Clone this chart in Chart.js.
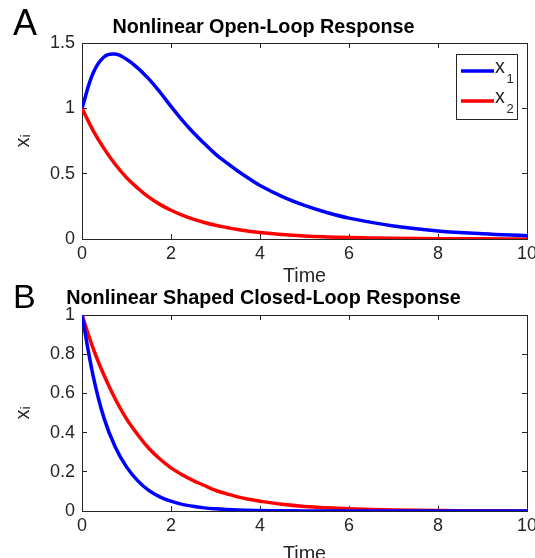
<!DOCTYPE html>
<html><head><meta charset="utf-8">
<script src="https://cdn.jsdelivr.net/npm/chart.js@4"></script>
<style>
html,body{margin:0;padding:0;background:#fff;overflow:hidden;width:535px;height:558px;}
#wrap{position:relative;width:535px;height:558px;overflow:hidden;background:#fff;}
canvas{position:absolute;left:0;}
#c1{top:0;}
#c2{top:280px;}
.lbl{position:absolute;left:13px;font-family:"Liberation Sans",Arial,sans-serif;color:#000;line-height:1;white-space:nowrap;}
</style></head>
<body><div id="wrap">
<canvas id="c1" width="535" height="290"></canvas>
<canvas id="c2" width="535" height="290"></canvas>
<div class="lbl" style="top:4.5px;font-size:36px;">A</div>
<div class="lbl" style="top:279px;font-size:34px;">B</div>
</div>
<script>
// ---- data ----
const timeValues = [0,0.25,0.5,0.75,1,1.25,1.5,1.75,2,2.25,2.5,2.75,3,3.25,3.5,3.75,4,4.5,5,5.5,6,7,8,9,10];
const openX1 = [1.00,1.27,1.395,1.415,1.375,1.31,1.225,1.125,1.015,0.91,0.815,0.73,0.65,0.583,0.52,0.463,0.41,0.325,0.257,0.203,0.16,0.10,0.062,0.04,0.025];
const openX2 = [1.00,0.83,0.69,0.57,0.47,0.39,0.32,0.265,0.22,0.183,0.152,0.126,0.105,0.088,0.072,0.06,0.05,0.034,0.023,0.016,0.011,0.005,0.0025,0.001,0.0005];
const closedX1 = [1.00,0.69,0.47,0.325,0.225,0.155,0.105,0.072,0.05,0.034,0.024,0.016,0.011,0.0075,0.005,0.0036,0.0025,0.0012,0.0006,0.0003,0.0001,0,0,0,0];
const closedX2 = [1.00,0.83,0.69,0.57,0.47,0.39,0.32,0.265,0.22,0.185,0.155,0.13,0.105,0.088,0.072,0.06,0.05,0.034,0.023,0.016,0.011,0.005,0.0025,0.001,0.0005];
const xTickValues = [0,2,4,6,8,10];
const yTicksOpen = [0,0.5,1,1.5];
const yTicksClosed = [0,0.2,0.4,0.6,0.8,1];
const seriesLabels = ['x_1','x_2'];
const seriesColors = ['#0000ff','#ff0000'];
const titleOpen = 'Nonlinear Open-Loop Response';
const titleClosed = 'Nonlinear Shaped Closed-Loop Response';
const xAxisTitle = 'Time';
const yAxisTitle = 'x\u1D62';

Chart.defaults.font.family = '"Liberation Sans", Arial, Helvetica, sans-serif';
const AX = '#262626';

const legendPlugin = {
  id: 'boxLegend',
  afterDraw(chart, args, o) {
    if (!o || !o.show) return;
    const ctx = chart.ctx, a = chart.chartArea;
    const w = 61, h = 65;
    const x0 = Math.round(a.right - 10 - w), y0 = Math.round(a.top + 11);
    ctx.save();
    ctx.fillStyle = '#fff';
    ctx.fillRect(x0, y0, w, h);
    ctx.strokeStyle = AX; ctx.lineWidth = 1;
    ctx.strokeRect(x0 + 0.5, y0 + 0.5, w, h);
    chart.data.datasets.forEach((ds, i) => {
      const ly = y0 + 17 + i * 30;
      ctx.strokeStyle = ds.borderColor; ctx.lineWidth = 3.5; ctx.lineCap = 'butt';
      ctx.beginPath(); ctx.moveTo(x0 + 5, ly); ctx.lineTo(x0 + 38, ly); ctx.stroke();
      const parts = ds.label.split('_');
      ctx.fillStyle = AX; ctx.textBaseline = 'alphabetic'; ctx.textAlign = 'left';
      ctx.font = '19.8px "Liberation Sans", Arial, sans-serif';
      ctx.fillText(parts[0], x0 + 39, ly + 1.7);
      ctx.font = '13px "Liberation Sans", Arial, sans-serif';
      ctx.fillText(parts[1] || '', x0 + 50.5, ly + 12);
    });
    ctx.restore();
  }
};

function tickSetter(list) { return s => { s.ticks = list.map(v => ({value: v})); }; }

function makeChart(id, cfg) {
  const gridOpts = {drawOnChartArea: false, tickLength: -5, color: AX, lineWidth: 1};
  const borderOpts = {display: true, color: AX, width: 1};
  return new Chart(document.getElementById(id), {
    type: 'line',
    data: {
      datasets: cfg.series.map((vals, i) => ({
        label: seriesLabels[i],
        data: timeValues.map((t, k) => ({x: t, y: vals[k]})),
        borderColor: seriesColors[i],
        backgroundColor: seriesColors[i],
        borderWidth: 3.5,
        pointRadius: 0,
        fill: false,
        tension: 0.4
      }))
    },
    options: {
      responsive: false,
      animation: false,
      events: [],
      layout: {padding: {top: 0, left: 0, right: 8, bottom: 0}},
      plugins: {
        legend: {display: false},
        tooltip: {enabled: false},
        title: {display: true, text: cfg.title, color: '#000',
          font: {size: 19.8, weight: 'bold'}, padding: {top: cfg.tPadTop, bottom: cfg.tPadBottom}},
        boxLegend: {show: cfg.legend}
      },
      scales: {
        x: {type: 'linear', position: 'bottom', min: 0, max: 10,
          afterBuildTicks: tickSetter(xTickValues),
          ticks: {callback: v => String(v), font: {size: 18}, color: AX, padding: 9.7, maxRotation: 0, autoSkip: false},
          grid: gridOpts, border: borderOpts,
          title: {display: true, text: xAxisTitle, color: AX, font: {size: 19.8}, padding: {top: 0, bottom: cfg.xTitlePad}},
          afterFit: s => { s.height = cfg.xHeight; s.paddingLeft = 0; s.paddingRight = 0; }
        },
        xTop: {type: 'linear', position: 'top', min: 0, max: 10,
          afterBuildTicks: tickSetter(xTickValues),
          ticks: {display: false}, grid: gridOpts, border: borderOpts,
          afterFit: s => { s.height = 0; s.paddingLeft = 0; s.paddingRight = 0; }
        },
        y: {type: 'linear', position: 'left', min: 0, max: cfg.ymax,
          afterBuildTicks: tickSetter(cfg.yTicks),
          ticks: {callback: v => String(v), font: {size: 18}, color: AX, padding: 12, autoSkip: false},
          grid: gridOpts, border: borderOpts,
          title: {display: true, text: yAxisTitle, color: AX, font: {size: 19.8}, padding: {top: 12, bottom: 0}},
          afterFit: s => { s.width = 82; s.paddingTop = 0; s.paddingBottom = 0; }
        },
        yRight: {type: 'linear', position: 'right', min: 0, max: cfg.ymax,
          afterBuildTicks: tickSetter(cfg.yTicks),
          ticks: {display: false}, grid: gridOpts, border: borderOpts,
          afterFit: s => { s.width = 0; s.paddingTop = 0; s.paddingBottom = 0; }
        }
      }
    },
    plugins: [legendPlugin]
  });
}

makeChart('c1', {series: [openX1, openX2], title: titleOpen, ymax: 1.5, yTicks: yTicksOpen,
  tPadTop: 15.2, tPadBottom: 4.04, xHeight: 51, xTitlePad: 2.0, legend: true});
makeChart('c2', {series: [closedX1, closedX2], title: titleClosed, ymax: 1, yTicks: yTicksClosed,
  tPadTop: 6.8, tPadBottom: 4.44, xHeight: 59, xTitlePad: 3.1, legend: false});
</script>
</body></html>
